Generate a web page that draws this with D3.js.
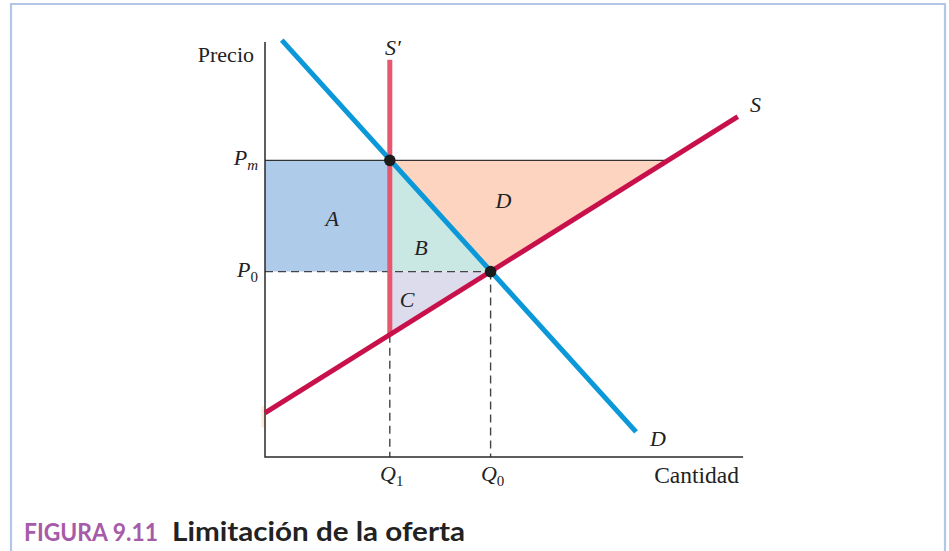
<!DOCTYPE html>
<html><head><meta charset="utf-8">
<script src="https://cdn.jsdelivr.net/npm/d3@7"></script>
<style>
html,body{margin:0;padding:0;background:#fff;}
svg{display:block;}
.serif{font-family:"Liberation Serif","Times New Roman",serif;fill:#222;}
</style></head>
<body>
<svg id="c" width="949" height="551"></svg>
<script>
// ---- data (economic units: quantity 0..100, price 0..100) ----
const Q1 = 26, Q0 = 47;            // quantities
const Pm = 72, P0 = 45;            // prices
const demandLine = [[3.5, 101.2], [77.3, 6.1]];
const supplyLine = [[0, 10.7], [98.5, 82.6]];
const sPrimeLine = [[26, 29.7], [26, 96.4]];
const supplyAtQ1 = 29.7;           // price on S at Q1
const supplyAtPm = 84;             // quantity on S at Pm
const areaLabels = [
  {t:"A", q:14, p:57.5}, {t:"B", q:32.5, p:50.5},
  {t:"C", q:29.6, p:37.8}, {t:"D", q:49.7, p:62}
];
const axisMax = {q:99.6, p:100.7};

const svg = d3.select("#c");
const x = d3.scaleLinear().domain([0,100]).range([265,745]);
const y = d3.scaleLinear().domain([0,100]).range([457,45]);
const line = d3.line().x(d=>x(d[0])).y(d=>y(d[1]));

// frame
svg.append("path").attr("d","M11,551V4H945V551").attr("fill","none")
  .attr("stroke","#b3c6e7").attr("stroke-width",2.2);

// areas
const areas = [
  {pts:[[0,Pm],[Q1,Pm],[Q1,P0],[0,P0]], c:"#aecbe9"},
  {pts:[[Q1,Pm],[Q1,P0],[Q0,P0]], c:"#cae8e3"},
  {pts:[[Q1,P0],[Q0,P0],[Q1,supplyAtQ1]], c:"#dcdced"},
  {pts:[[Q1,Pm],[supplyAtPm,Pm],[Q0,P0]], c:"#fcd4c0"}
];
svg.selectAll("path.area").data(areas).enter().append("path").attr("class","area")
  .attr("d", d=>line(d.pts)+"Z").attr("fill", d=>d.c);

// small beige mark near axis
svg.append("rect").attr("x",x(0)-3.5).attr("y",y(12.3)).attr("width",3.5)
  .attr("height",y(7.2)-y(12.3)).attr("fill","#fdebd3");

// dashed guides
const dash = [
  [[0,P0],[Q0,P0]], [[Q1,supplyAtQ1],[Q1,0]], [[Q0,P0],[Q0,0]]
];
svg.selectAll("path.dash").data(dash).enter().append("path").attr("class","dash")
  .attr("d", line).attr("fill","none").attr("stroke","#444")
  .attr("stroke-width",1.4).attr("stroke-dasharray","8,5");

// Pm solid line
svg.append("path").attr("d", line([[0,Pm],[supplyAtPm,Pm]]))
  .attr("stroke","#333").attr("stroke-width",1.4).attr("fill","none");

// axes
svg.append("path").attr("d", line([[0,axisMax.p],[0,0],[axisMax.q,0]]))
  .attr("fill","none").attr("stroke","#2a2a2a").attr("stroke-width",1.5);

// curves
svg.append("path").attr("d", line(sPrimeLine)).attr("stroke","#e8566f")
  .attr("stroke-width",5).attr("fill","none");
svg.append("path").attr("d", line(supplyLine)).attr("stroke","#c8114b")
  .attr("stroke-width",5).attr("fill","none");
svg.append("path").attr("d", line(demandLine)).attr("stroke","#0a98d8")
  .attr("stroke-width",5).attr("fill","none");

// points
svg.selectAll("circle.pt").data([[Q1,Pm],[Q0,P0]]).enter().append("circle")
  .attr("cx",d=>x(d[0])).attr("cy",d=>y(d[1])).attr("r",5.8).attr("fill","#1b1b1b");

// labels
const fs = 22;
function txt(xx, yy, s, opts={}) {
  return svg.append("text").attr("class","serif").attr("x",xx).attr("y",yy)
    .attr("font-size", opts.fs||fs).attr("font-style", opts.italic?"italic":"normal")
    .attr("text-anchor", opts.anchor||"start").text(s);
}
txt(254, 62, "Precio", {anchor:"end"});
txt(739, 483, "Cantidad", {anchor:"end", fs:23.5});

// subscripted labels
function sub(xx, yy, main, s, anchor) {
  const t = svg.append("text").attr("class","serif").attr("x",xx).attr("y",yy)
    .attr("font-size",fs).attr("font-style","italic").attr("text-anchor",anchor||"start");
  t.append("tspan").text(main);
  t.append("tspan").attr("font-size",15).attr("dy",5).attr("font-style", s==="m"?"italic":"normal").text(s);
  return t;
}
sub(x(0)-7, y(Pm)+5, "P", "m", "end");
sub(x(0)-7, y(P0)+5, "P", "0", "end");
sub(x(Q1)+2, 481, "Q", "1", "middle");
sub(x(Q0)+2, 481, "Q", "0", "middle");

// curve labels
txt(385, 55, "S\u2032", {italic:true});
txt(750, 112, "S", {italic:true});
txt(650, 446, "D", {italic:true});

// area labels
svg.selectAll("text.al").data(areaLabels).enter().append("text")
  .attr("class","serif").attr("x",d=>x(d.q)).attr("y",d=>y(d.p)+6)
  .attr("font-size",fs).attr("font-style","italic").attr("text-anchor","middle").text(d=>d.t);

// title
svg.append("text").attr("x",24).attr("y",541)
  .attr("font-family","Lato, 'Open Sans', sans-serif").attr("font-size",25)
  .attr("fill","#a65ba9").attr("font-weight",700)
  .attr("textLength",134).attr("lengthAdjust","spacingAndGlyphs").text("FIGURA 9.11");
svg.append("text").attr("x",172).attr("y",541)
  .attr("font-family","Lato, 'Open Sans', sans-serif").attr("font-size",26)
  .attr("fill","#222").attr("font-weight",700)
  .attr("textLength",293).attr("lengthAdjust","spacingAndGlyphs").text("Limitación de la oferta");
</script>
</body></html>
